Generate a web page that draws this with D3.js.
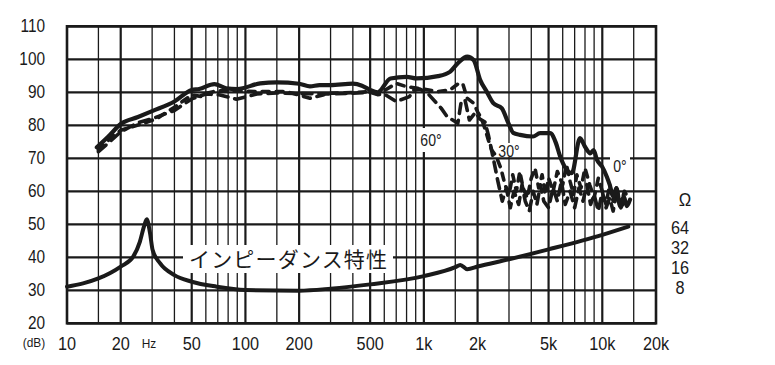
<!DOCTYPE html>
<html><head><meta charset="utf-8">
<script src="https://cdn.jsdelivr.net/npm/d3@7"></script>
<style>
html,body{margin:0;padding:0;background:#fff;}
svg{display:block;}
text{font-family:"Liberation Sans Narrow","Liberation Sans",Arial,sans-serif;fill:#1a1a1a;}
</style></head>
<body>
<svg id="c" width="775" height="365"></svg>
<script>
// ---- data ----
const yTicks = [20,30,40,50,60,70,80,90,100,110];
const xTickLabels = [[10,"10"],[20,"20"],[50,"50"],[100,"100"],[200,"200"],[500,"500"],[1000,"1k"],[2000,"2k"],[5000,"5k"],[10000,"10k"],[20000,"20k"]];
const ohmLabels = ["64","32","16","8"];
const gridFreqs = [15,20,30,40,50,60,70,80,90,100,150,200,300,400,500,600,700,800,900,1000,1500,2000,3000,4000,5000,6000,7000,8000,9000,10000,15000];
const majorFreqs = [20,50,100,200,500,1000,2000,5000,10000];

const impF = [10,12.3,15,20,23.5,25.6,27,28,29.2,30.2,33.2,40,50,69,100,200,300,500,1000,1500,1600,1750,2000,3000,5000,10000,14000];
const impDb = [31.1,32.1,33.6,37.2,40.2,44.7,49.3,51.5,47.3,42.2,38.2,34.6,32.6,31.1,30.1,29.9,30.5,31.8,34.3,37,37.7,36.4,37.2,39.4,42.4,46.8,49.3];

const f0 = [14.7,17,20,25,30,40,50,55,67,78,90,121,150,200,230,260,300,400,450,500,550,650,800,910,1200,1400,1550,1750,1900,2070,2250,2450,2730,2980,3170,3460,4090,4480,5100,5500,5800,6750,7500,8000,8570,8940,9340,9970,10600,11000,11500,12000,12600,13200,13700,14300];
const db0 = [73.3,76.5,80.4,82.5,84.3,87.2,90.7,91,92.5,91.2,91.0,92.7,93.0,92.6,91.8,92.2,92.2,92.6,92,90.7,90,94.2,94.7,94.2,94.9,96.2,98.8,100.8,99.8,93.7,90.2,86.7,85.2,80.6,77.7,77.1,76.6,77.6,77.6,74.6,70.6,65.5,76.1,73.5,71.5,72.5,69.5,67.5,64.4,62,58.5,61,55.5,58.5,55.5,57.5];

const f30 = [15,17.5,20,25,27,32,40,50,57,60,70,100,130,170,230,272,300,400,500,550,600,700,800,1000,1200,1400,1550,1650,1750,1900,2000,2100,2200,2300,2400,2550,2700,2850,3000,3150,3300,3450,3600,3800,4000,4200,4400,4600,4800,5000,5300,5600,6000,6300,6600,6900,7200,7600,8000,8500,9000,9500,10000,10500,11000,11500,12000,12700,13300,14000];
const db30 = [72.5,76,78.5,80.1,80.6,82.1,85.5,89.2,88.7,89.7,90.5,90.3,90.2,90.2,88.2,89.2,89.7,89.9,90.2,89.5,90.5,92.7,91.7,91,90.2,90.7,92.5,92.7,88.2,86.7,84.1,82.1,79,75.5,72.5,70.5,67,62,59,65,60,66,61,58,64,67,61,65,59,64,60,66,62,68,63,59,65,61,67,62,58,64,60,56,62,57,61,56,60,58];

const f60 = [15,20,25,30,40,50,60,72,89,116,150,200,300,400,500,550,600,700,830,880,950,1050,1250,1350,1450,1550,1620,1700,1800,1950,2050,2200,2300,2450,2600,2750,2900,3050,3200,3400,3550,3700,3900,4100,4300,4500,4700,5000,5300,5600,5900,6200,6600,7000,7400,7800,8200,8600,9000,9500,10000,10500,11000,11500,12000,12700,13300,14000];
const db60 = [72,78,80.8,82,84.5,88,89.5,89.2,87.9,89.5,89.8,89.6,89.5,89.7,90,89.3,89.5,87.2,88.7,90.7,91,89.7,85.2,82.6,81.6,80.6,87.2,87.7,81.6,84,82,81,77,70,63,57,61,55,60,56,62,57,54,60,56,62,57,55,61,57,63,56,60,55,61,57,62,56,59,54,60,55,58,54,59,55,57,56];

// ---- layout ----
const svg = d3.select("#c");
const L = 67, R = 656, T = 26.3, B = 323.3;
const x = d3.scaleLog().domain([10,20000]).range([L,R]);
const y = d3.scaleLinear().domain([20,110]).range([B,T]);
const ink = "#1a1a1a";

// grid
const g = svg.append("g");
g.selectAll("line.v").data(gridFreqs).join("line")
  .attr("x1",d=>x(d)).attr("x2",d=>x(d)).attr("y1",T).attr("y2",B)
  .attr("stroke",ink).attr("stroke-width",d=>majorFreqs.includes(d)?2.2:1.3);
g.selectAll("line.h").data(yTicks).join("line")
  .attr("x1",L).attr("x2",R).attr("y1",d=>y(d)).attr("y2",d=>y(d))
  .attr("stroke",ink).attr("stroke-width",2.2);
g.append("rect").attr("x",L).attr("y",T).attr("width",R-L).attr("height",B-T)
  .attr("fill","none").attr("stroke",ink).attr("stroke-width",2.6);

// label backgrounds
const bgs = [[183,245,210,28],[418,128,27,24],[495,143,27,14],[610,157,20,16]];
svg.selectAll("rect.bg").data(bgs).join("rect")
  .attr("x",d=>d[0]).attr("y",d=>d[1]).attr("width",d=>d[2]).attr("height",d=>d[3]).attr("fill","#fff");

// axes text (condensed look)
function ctext(xx, yy, s, size, anchor){
  const t = svg.append("text").attr("transform",`translate(${xx},${yy}) scale(0.88,1)`)
    .attr("text-anchor",anchor||"middle").attr("font-size",size).text(s);
  return t;
}
yTicks.forEach(d=>ctext(45, y(d)+6, d, 17.5, "end"));
xTickLabels.forEach(d=>ctext(x(d[0]), 350, d[1], 18.5, "middle"));
ctext(149, 348, "Hz", 13.5, "middle");
ctext(34, 347, "(dB)", 13.5, "middle");
ctext(685, 206, "Ω", 19, "middle");
ohmLabels.forEach((d,i)=>ctext(680, 234+i*20, d, 18.5, "middle"));

svg.append("text").attr("x",189).attr("y",267).attr("font-size",21)
  .style("font-family","'Noto Sans CJK JP',sans-serif").attr("textLength",198).text("インピーダンス特性");
ctext(431, 146, "60°", 16, "middle");
ctext(509, 157, "30°", 16, "middle");
ctext(620, 172, "0°", 16, "middle");

// curves
const line = d3.line().x(d=>x(d[0])).y(d=>y(d[1])).curve(d3.curveMonotoneX);
const lineL = d3.line().x(d=>x(d[0])).y(d=>y(d[1]));
function draw(fs, vs, w, dash, gen){
  svg.append("path").datum(fs.map((f,i)=>[f,vs[i]]))
    .attr("d",gen).attr("fill","none").attr("stroke",ink)
    .attr("stroke-width",w).attr("stroke-linejoin","round").attr("stroke-linecap","round")
    .attr("stroke-dasharray",dash);
}
draw(f60, db60, 3.6, "10,7", lineL);
draw(f30, db30, 3.6, "7,7", lineL);
draw(impF, impDb, 4, null, line);
draw(f0, db0, 4.2, null, line);
</script>
</body></html>
